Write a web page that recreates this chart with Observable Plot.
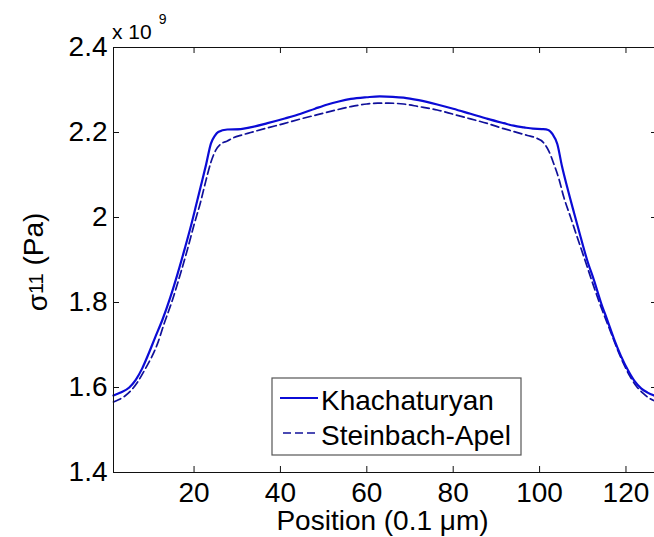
<!DOCTYPE html>
<html><head><meta charset="utf-8">
<script src="https://cdn.jsdelivr.net/npm/d3@7"></script>
<script src="https://cdn.jsdelivr.net/npm/@observablehq/plot@0.6"></script>
<style>
html,body{margin:0;padding:0;background:#fff;overflow:hidden}
#wrap{width:654px;height:537px;overflow:hidden;position:relative}
</style></head><body><div id="wrap"></div>
<script>
// Khachaturyan (solid)
const khPos = [1.35, 3, 5, 6.5, 8, 9.5, 11, 12.7, 14.5, 16.2, 17.8, 19.2, 20.5, 21.5, 22.8, 23.9, 24.8, 25.6, 27.7, 30.8, 33, 37, 41, 44.7, 48, 50.9, 53.5, 56.3, 60, 63, 66, 68.5, 72, 76.3, 80, 84, 88, 91.7, 94, 96.4, 98.5, 100.5, 102, 103, 104.1, 105.2, 106.4, 108, 109.5, 111, 112.6, 114.2, 115.7, 117.2, 118.8, 120.5, 122, 123.5, 125, 126.5, 127.3];
const khSigma = [1.581, 1.588, 1.600, 1.618, 1.645, 1.680, 1.718, 1.760, 1.812, 1.868, 1.925, 1.977, 2.030, 2.071, 2.125, 2.174, 2.192, 2.201, 2.207, 2.208, 2.212, 2.222, 2.233, 2.244, 2.256, 2.266, 2.273, 2.279, 2.283, 2.285, 2.284, 2.282, 2.276, 2.266, 2.256, 2.244, 2.232, 2.222, 2.216, 2.212, 2.209, 2.208, 2.206, 2.196, 2.173, 2.120, 2.071, 2.010, 1.954, 1.900, 1.852, 1.800, 1.758, 1.715, 1.675, 1.640, 1.615, 1.598, 1.588, 1.581, 1.578];
// Steinbach-Apel (dashed)
const saPos = [1.35, 2.5, 4, 5.5, 7, 8.5, 10, 11.5, 13, 15, 16.8, 18.5, 20, 21.5, 22.7, 23.9, 25, 26.2, 27.7, 29.2, 31, 33.1, 37, 40.8, 44.7, 48.6, 52.5, 56.3, 60, 62.5, 65, 68.5, 72, 76.3, 80, 84, 88, 91.7, 94.5, 97.2, 99, 101, 102.2, 103.3, 104.5, 105.6, 107.2, 108.7, 110.5, 112.3, 114.2, 116.3, 118, 119.5, 121, 122.5, 124, 125.5, 127.3];
const saSigma = [1.566, 1.571, 1.580, 1.594, 1.614, 1.640, 1.668, 1.702, 1.748, 1.806, 1.866, 1.926, 1.983, 2.036, 2.085, 2.130, 2.158, 2.173, 2.180, 2.188, 2.194, 2.200, 2.211, 2.221, 2.232, 2.242, 2.252, 2.261, 2.267, 2.269, 2.269, 2.267, 2.261, 2.253, 2.243, 2.232, 2.221, 2.209, 2.201, 2.193, 2.188, 2.175, 2.155, 2.126, 2.090, 2.048, 2.000, 1.954, 1.900, 1.845, 1.790, 1.735, 1.690, 1.655, 1.625, 1.602, 1.586, 1.574, 1.566];

const seriesNames = ["Khachaturyan", "Steinbach-Apel"];
const xTicks = [20, 40, 60, 80, 100, 120];
const yTicks = [1.4, 1.6, 1.8, 2.0, 2.2, 2.4];
const yTickLabels = ["1.4", "1.6", "1.8", "2", "2.2", "2.4"];
const yExponentBase = "x 10";
const yExponent = "9";
const xLabel = "Position (0.1 \u03bcm)";
const yLabelMain = "\u03c3";
const yLabelSub = "11";
const yLabelRest = " (Pa)";

const rows = [
  ...khPos.map((p, i) => ({pos: p, sigma: khSigma[i], model: seriesNames[0]})),
  ...saPos.map((p, i) => ({pos: p, sigma: saSigma[i], model: seriesNames[1]}))
];

const solidColor = "#0b0bd6";
const dashColor = "#10109a";
const font = '"Liberation Sans", Arial, Helvetica, sans-serif';
const yLabelFull = yLabelMain + yLabelSub + yLabelRest;

const W = 659, H = 537, ML = 113, MR = 2, MT = 47, MB = 65;
const frameW = W - ML - MR, frameH = H - MT - MB;
const tickLen = 6;

const chart = Plot.plot({
  width: W, height: H,
  marginLeft: ML, marginRight: MR, marginTop: MT, marginBottom: MB,
  style: {fontFamily: font, fontSize: "28px", color: "#000", background: "#fff", maxWidth: "none"},
  x: {domain: [1.35, 127.3], label: null},
  y: {domain: [1.4, 2.4], label: null},
  marks: [
    Plot.line(rows.filter(d => d.model === seriesNames[1]), {x: "pos", y: "sigma", stroke: dashColor, strokeWidth: 1.7, strokeDasharray: "8,4", curve: "monotone-x"}),
    Plot.line(rows.filter(d => d.model === seriesNames[0]), {x: "pos", y: "sigma", stroke: solidColor, strokeWidth: 2.2, curve: "monotone-x"}),
    // inward tick marks on all four sides
    Plot.ruleX(xTicks, {x: d => d, insetTop: frameH - tickLen, stroke: "#111"}),
    Plot.ruleX(xTicks, {x: d => d, insetBottom: frameH - tickLen, stroke: "#111"}),
    Plot.ruleY(yTicks, {y: d => d, insetRight: frameW - tickLen, stroke: "#111"}),
    Plot.ruleY(yTicks, {y: d => d, insetLeft: frameW - tickLen, stroke: "#111"}),
    Plot.frame({stroke: "#111", strokeWidth: 1}),
    Plot.axisX(xTicks, {anchor: "bottom", tickSize: 0, tickPadding: 10, fontSize: 28, label: null}),
    Plot.axisY(yTicks, {anchor: "left", tickSize: 0, tickPadding: 6, fontSize: 28, tickFormat: d => yTickLabels[yTicks.indexOf(d)], label: null}),
    Plot.text([xLabel], {text: d => d, frameAnchor: "bottom", dx: -3, dy: 57, lineAnchor: "bottom", fontSize: 28}),
    Plot.text([yLabelFull], {text: d => d, frameAnchor: "left", rotate: -90, dx: -71, dy: 2, lineAnchor: "bottom", textAnchor: "middle", fontSize: 28})
  ]
});

document.getElementById("wrap").appendChild(chart);
const svg = d3.select(chart);

// subscript in y label
svg.selectAll("text").filter(function() { return this.textContent === yLabelFull; }).each(function() {
  const t = d3.select(this);
  t.text(null);
  t.append("tspan").attr("dy", 4).text(yLabelMain);
  t.append("tspan").attr("dy", -4).attr("font-size", 20).text(yLabelSub);
  t.append("tspan").text(yLabelRest);
});

// exponent label
const ex = svg.append("text").attr("x", 112).attr("y", 39).attr("font-size", 21).attr("fill", "#000")
  .attr("font-family", font).attr("text-anchor", "start");
ex.append("tspan").text(yExponentBase);
ex.append("tspan").attr("dx", 7).attr("dy", -15).attr("font-size", 14).text(yExponent);

// legend
const lg = svg.append("g").attr("font-family", font).attr("font-size", 28).attr("text-anchor", "start");
lg.append("rect").attr("x", 272).attr("y", 378).attr("width", 249).attr("height", 77).attr("fill", "#fff").attr("stroke", "#555").attr("stroke-width", 1.2);
const legendItems = [
  {name: seriesNames[0], color: solidColor, dash: null, x1: 280, y: 398, ty: 410, w: 2},
  {name: seriesNames[1], color: dashColor, dash: "8,4", x1: 283, y: 433, ty: 445, w: 1.7}
];
legendItems.forEach(it => {
  lg.append("line").attr("x1", it.x1).attr("x2", 318).attr("y1", it.y).attr("y2", it.y)
    .attr("stroke", it.color).attr("stroke-width", it.w).attr("stroke-dasharray", it.dash);
  lg.append("text").attr("x", 321).attr("y", it.ty).attr("fill", "#000").attr("text-anchor", "start").text(it.name);
});
</script>
</body></html>
